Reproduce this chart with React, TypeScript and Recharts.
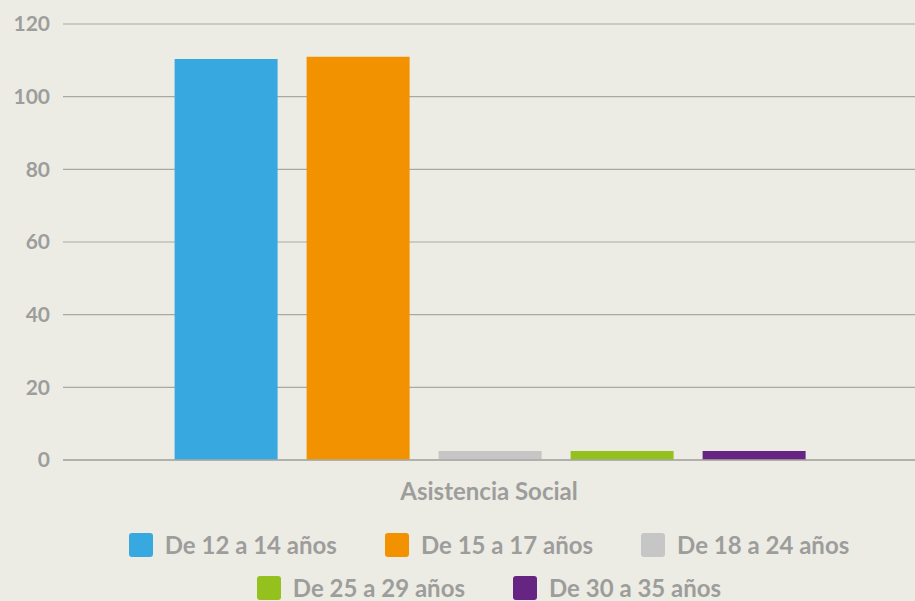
import React from 'react';
import { BarChart, Bar, XAxis, YAxis, CartesianGrid, Legend } from 'recharts';

const categories = ['Asistencia Social'];
const seriesNames = ['De 12 a 14 años', 'De 15 a 17 años', 'De 18 a 24 años', 'De 25 a 29 años', 'De 30 a 35 años'];
const seriesValues = [[110.4], [111], [2.5], [2.5], [2.5]];
const seriesColors = ['#37A8E0', '#F39200', '#C6C6C6', '#95C11F', '#662483'];
const yTicks = [0, 20, 40, 60, 80, 100, 120];

const data = categories.map((name, i) => {
  const row: Record<string, string | number> = { name };
  seriesValues.forEach((vals, s) => {
    row[`s${s}`] = vals[i];
  });
  return row;
});

const textGray = '#9D9D9C';
const gridGray = '#A9A9A4';
const bg = '#ECECE4';
const font = 'Lato, "Open Sans", sans-serif';

function LegendItem({ name, color }: { name: string; color: string }) {
  return (
    <div style={{ display: 'flex', alignItems: 'center', margin: '0 24px' }}>
      <div style={{ width: 24, height: 24, borderRadius: 3, background: color, marginRight: 12 }} />
      <span style={{ fontSize: 24, fontWeight: 700, color: textGray, fontFamily: font, lineHeight: '24px' }}>{name}</span>
    </div>
  );
}

function CustomLegend() {
  const rows = [[0, 1, 2], [3, 4]];
  return (
    <div style={{ height: 91, paddingTop: 23, boxSizing: 'border-box' }}>
      {rows.map((r, ri) => (
        <div key={ri} style={{ display: 'flex', justifyContent: 'center', height: 24, marginBottom: ri === 0 ? 19 : 0 }}>
          {r.map((i) => (
            <LegendItem key={i} name={seriesNames[i]} color={seriesColors[i]} />
          ))}
        </div>
      ))}
    </div>
  );
}

export default function App() {
  return (
    <div style={{ position: 'absolute', left: 0, top: 0, width: 915, height: 601, background: bg }}>
      <BarChart
        width={915}
        height={601}
        data={data}
        margin={{ top: 24, right: 0, left: 0, bottom: 0 }}
        barCategoryGap="13.1%"
        barGap={29}
      >
        <CartesianGrid vertical={false} stroke={gridGray} strokeWidth={1.2} />
        <XAxis
          dataKey="name"
          height={50}
          tickSize={0}
          tickMargin={23}
          axisLine={{ stroke: gridGray, strokeWidth: 1.5 }}
          tickLine={false}
          tick={{ fill: textGray, fontSize: 24, fontWeight: 700, fontFamily: font }}
        />
        <YAxis
          width={63}
          domain={[0, 120]}
          ticks={yTicks}
          tickSize={0}
          tickMargin={13}
          axisLine={false}
          tickLine={false}
          tick={{ fill: textGray, fontSize: 21, fontWeight: 700, fontFamily: font }}
        />
        <Legend
          verticalAlign="bottom"
          content={() => <CustomLegend />}
          wrapperStyle={{ left: 63, width: 852 }}
        />
        {seriesNames.map((n, i) => (
          <Bar key={n} dataKey={`s${i}`} name={n} fill={seriesColors[i]} isAnimationActive={false} />
        ))}
      </BarChart>
    </div>
  );
}
